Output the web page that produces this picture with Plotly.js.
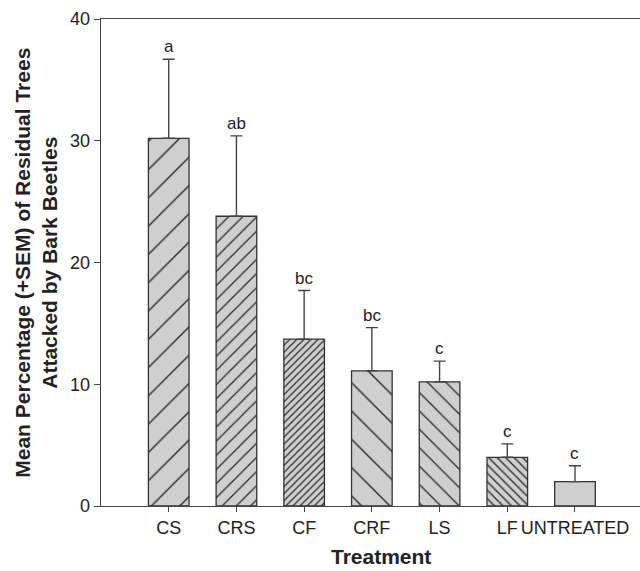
<!DOCTYPE html>
<html>
<head>
<meta charset="utf-8">
<script src="https://cdn.plot.ly/plotly-3.0.1.min.js"></script>
<style>html,body{margin:0;padding:0;background:#fff;}#chart{width:640px;height:571px;}</style>
</head>
<body>
<div id="chart"></div>
<script>
const treatments = ["CS", "CRS", "CF", "CRF", "LS", "LF", "UNTREATED"];
const meanPct = [30.2, 23.8, 13.7, 11.1, 10.2, 4.0, 2.0];
const sem = [6.5, 6.6, 4.0, 3.55, 1.7, 1.1, 1.3];
const groupLetters = ["a", "ab", "bc", "bc", "c", "c", "c"];
const hatchShapes = ["/", "/", "/", "\\", "\\", "\\", ""];
const hatchSizes = [20, 10, 5, 20, 13, 6, 8];
const hatchSolidity = [0.07, 0.13, 0.25, 0.07, 0.1, 0.22, 0.1];

const font = "Liberation Sans, Arial, sans-serif";

const trace = {
  type: "bar",
  x: treatments,
  y: meanPct,
  width: 0.6,
  marker: {
    color: "#cfcfcf",
    line: {color: "#333", width: 1.3},
    pattern: {
      shape: hatchShapes,
      size: hatchSizes,
      solidity: hatchSolidity,
      fgcolor: "#2a2a2a",
      fgopacity: 1,
      bgcolor: "#cfcfcf"
    }
  },
  error_y: {
    type: "data",
    symmetric: false,
    array: sem,
    arrayminus: treatments.map(() => 0),
    color: "#444",
    thickness: 1.4,
    width: 6
  },
  hoverinfo: "none"
};

const annotations = treatments.map((t, i) => ({
  x: t, y: meanPct[i] + sem[i], xref: "x", yref: "y",
  text: groupLetters[i], showarrow: false,
  yanchor: "bottom", yshift: 1,
  font: {family: font, size: 17, color: "#222"}
}));
annotations.push({
  xref: "paper", yref: "paper", x: -0.122, y: 0.5,
  xanchor: "center", yanchor: "middle", textangle: -90,
  text: "Mean Percentage (+SEM) of Residual Trees<br>Attacked by Bark Beetles",
  showarrow: false,
  font: {family: font, size: 21, color: "#222", weight: "bold"}
});
annotations.push({
  xref: "paper", yref: "paper", x: (381 - 101) / 539, y: -(570 - 506) / 487,
  xanchor: "center", yanchor: "bottom",
  text: "Treatment", showarrow: false,
  font: {family: font, size: 21, color: "#222", weight: "bold"}
});

const layout = {
  width: 640, height: 571,
  margin: {l: 101, r: 0, t: 19, b: 65},
  paper_bgcolor: "#fff", plot_bgcolor: "#fff",
  showlegend: false,
  xaxis: {
    type: "category",
    range: [-1, 6.96],
    showline: true, linecolor: "#444", linewidth: 1.3, mirror: true,
    ticks: "outside", ticklen: 5, tickcolor: "#444",
    tickfont: {family: font, size: 18, color: "#222"},
    showgrid: false, zeroline: false
  },
  yaxis: {
    range: [0, 40],
    tickvals: [0, 10, 20, 30, 40],
    showline: true, linecolor: "#444", linewidth: 1.3,
    ticks: "outside", ticklen: 6, tickcolor: "#444",
    tickfont: {family: font, size: 18, color: "#222"},
    showgrid: false, zeroline: false
  },
  annotations: annotations
};

Plotly.newPlot("chart", [trace], layout, {displayModeBar: false, staticPlot: true});
</script>
</body>
</html>
